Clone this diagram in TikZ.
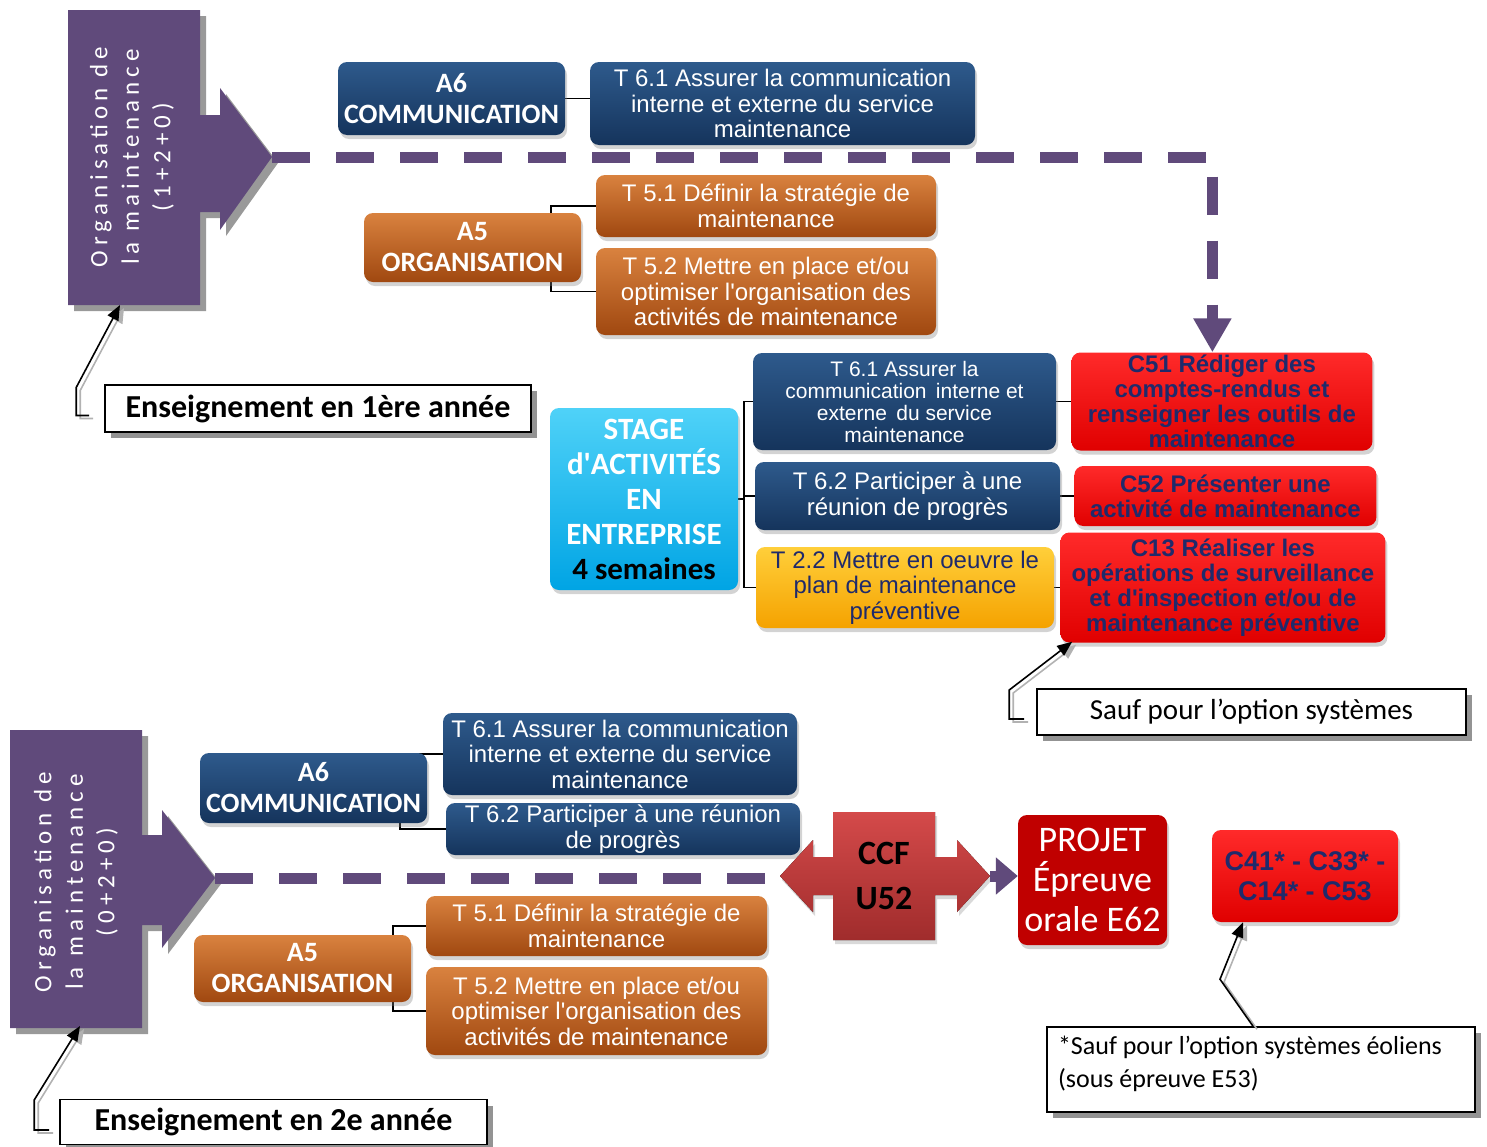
\documentclass[tikz,border=0pt]{standalone}
\usepackage{fontspec}
\setmainfont{Carlito}
\newfontfamily\arialfont{Liberation Sans}
\usepackage{tikz}
\usetikzlibrary{positioning,calc,shadows,arrows.meta,backgrounds}

\definecolor{navyA}{HTML}{2E5A8C}
\definecolor{navyB}{HTML}{15345C}
\definecolor{brownA}{HTML}{D9823F}
\definecolor{brownB}{HTML}{A04810}
\definecolor{cyanA}{HTML}{4FD2F8}
\definecolor{cyanB}{HTML}{00A4E4}
\definecolor{goldA}{HTML}{FFCF3A}
\definecolor{goldB}{HTML}{F5A200}
\definecolor{redA}{HTML}{FF2A2A}
\definecolor{redB}{HTML}{E00000}
\definecolor{cnavy}{HTML}{1F2A6B}
\definecolor{purp}{HTML}{604A7B}
\definecolor{projred}{HTML}{C00000}
\definecolor{ccfA}{HTML}{D44A4A}
\definecolor{ccfB}{HTML}{A02C2C}

\newcommand{\actfont}{\bfseries\fontsize{28}{31}\selectfont}
\newcommand{\taskfont}{\arialfont\fontsize{24}{25.5}\selectfont}
\newcommand{\smalltaskfont}{\arialfont\fontsize{21}{22}\selectfont}
\newcommand{\compfont}{\arialfont\bfseries\fontsize{24}{25}\selectfont}
\newcommand{\orgfont}{\fontsize{25}{31.5}\selectfont\addfontfeature{LetterSpace=20}}
\newcommand{\notefont}{\fontsize{29}{32}\selectfont}

\begin{document}
\begin{tikzpicture}[x=1pt, y=-1pt,
  box/.style={rounded corners=9pt, align=center, inner sep=1pt,
    drop shadow={opacity=0.35, shadow xshift=2pt, shadow yshift=-4pt}},
  navybox/.style={box, top color=navyA, bottom color=navyB, text=white},
  brownbox/.style={box, top color=brownA, bottom color=brownB, text=white},
  cyanbox/.style={box, top color=cyanA, bottom color=cyanB, text=white},
  goldbox/.style={box, top color=goldA, bottom color=goldB, text=cnavy},
  redbox/.style={box, top color=redA, bottom color=redB, text=cnavy},
  bigarrow/.style={fill=purp, drop shadow={fill=gray!80, opacity=1, shadow xshift=6pt, shadow yshift=-6pt}},
  orgtext/.style={rotate=90, align=center, text=white, font=\orgfont},
  dashline/.style={draw=purp, line width=11pt, dash pattern=on 38pt off 26pt},
  link/.style={draw=black, line width=1.6pt},
  note/.style={draw=black, line width=1.6pt, fill=white,
    drop shadow={fill=gray!85, opacity=1, shadow xshift=6pt, shadow yshift=-6pt}},
  pointer/.style={draw=black, line width=1.6pt, -{Triangle[length=15pt,width=12pt]},
    preaction={draw=gray!60, line width=1.6pt, transform canvas={shift={(4pt,-3pt)}}}}
]
\useasboundingbox (0,0) rectangle (1487,1146);

% 1st year arrow
\fill[bigarrow] (68,10) -- (200,10) -- (200,115) -- (220,115) -- (220,88) -- (272,157)
  -- (220,230) -- (220,212) -- (200,212) -- (200,305) -- (68,305) -- cycle;
\node[orgtext] (org1) at (132,157) {Organisation de\\la maintenance\\(1+2+0)};
\coordinate (tip1) at (272,157);
\coordinate (foot1) at (120,305);

% 2nd year arrow
\fill[bigarrow] (10,730) -- (142,730) -- (142,835) -- (162,835) -- (162,810) -- (215,878)
  -- (162,948) -- (162,925) -- (142,925) -- (142,1028) -- (10,1028) -- cycle;
\node[orgtext] (org2) at (76,882) {Organisation de\\la maintenance\\(0+2+0)};
\coordinate (tip2) at (215,878);
\coordinate (foot2) at (80,1026);

% 1st year activities
\node[navybox, font=\actfont, minimum width=227pt, minimum height=73pt] (a6top) at (451.5,98.5) {A6\\COMMUNICATION};
\node[navybox, font=\taskfont, minimum width=385pt, minimum height=83pt] (t61top) at (782.5,103.5)
  {T 6.1 Assurer la communication\\interne et externe du service\\maintenance};
\node[brownbox, font=\actfont, minimum width=217pt, minimum height=69pt] (a5top) at (472.5,247.5) {A5\\ORGANISATION};
\node[brownbox, font=\taskfont, minimum width=340pt, minimum height=62pt] (t51top) at (766,206)
  {T 5.1 Définir la stratégie de\\maintenance};
\node[brownbox, font=\taskfont, minimum width=340pt, minimum height=87pt] (t52top) at (766,291.5)
  {T 5.2 Mettre en place et/ou\\optimiser l\textquotesingle organisation des\\activités de maintenance};

% stage
\node[cyanbox, font=\bfseries\fontsize{31}{35}\selectfont, minimum width=188pt, minimum height=182pt] (stage) at (644,499)
  {STAGE\\d\textquotesingle ACTIVITÉS\\EN\\ENTREPRISE\\\textcolor{black}{4 semaines}};
\node[navybox, font=\smalltaskfont, minimum width=303pt, minimum height=97pt] (t61mid) at (904.5,401.5)
  {T 6.1 Assurer la\\communication\, interne et\\externe\, du service\\maintenance};
\node[navybox, font=\taskfont, minimum width=305pt, minimum height=68pt] (t62mid) at (907.5,496)
  {T 6.2 Participer à une\\réunion de progrès};
\node[goldbox, font=\taskfont, minimum width=298pt, minimum height=81pt] (t22) at (905,587.5)
  {T 2.2 Mettre en oeuvre le\\plan de maintenance\\préventive};
\node[redbox, font=\compfont, minimum width=301pt, minimum height=98pt, right=15pt of t61mid] (c51)
  {C51 Rédiger des\\comptes-rendus et\\renseigner les outils de\\maintenance};
\node[redbox, font=\compfont, minimum width=302pt, minimum height=60pt, right=14pt of t62mid] (c52)
  {C52 Présenter une\\activité de maintenance};
\node[redbox, font=\compfont, minimum width=325pt, minimum height=110pt, right=6pt of t22] (c13)
  {C13 Réaliser les\\opérations de surveillance\\et d\textquotesingle inspection et/ou de\\maintenance préventive};

% 2nd year activities
\node[navybox, font=\actfont, minimum width=227pt, minimum height=70pt] (a6bot) at (313.5,788) {A6\\COMMUNICATION};
\node[navybox, font=\taskfont, minimum width=354pt, minimum height=82pt] (t61bot) at (620,754)
  {T 6.1 Assurer la communication\\interne et externe du service\\maintenance};
\node[navybox, font=\taskfont, minimum width=354pt, minimum height=52pt] (t62bot) at (623,829)
  {T 6.2 Participer à une réunion\\de progrès};
\node[brownbox, font=\actfont, minimum width=217pt, minimum height=67pt] (a5bot) at (302.5,968.5) {A5\\ORGANISATION};
\node[brownbox, font=\taskfont, minimum width=341pt, minimum height=60pt] (t51bot) at (596.5,926)
  {T 5.1 Définir la stratégie de\\maintenance};
\node[brownbox, font=\taskfont, minimum width=341pt, minimum height=88pt] (t52bot) at (596.5,1011)
  {T 5.2 Mettre en place et/ou\\optimiser l\textquotesingle organisation des\\activités de maintenance};

% dashed paths
\draw[dashline, -{Triangle[width=36pt,length=34pt]}] (tip1) -| ([xshift=-9.5pt]c51.north);
\draw[dashline] (tip2) -- (780,878) coordinate (ccfL);

% CCF double arrow
\fill[top color=ccfA, bottom color=ccfB, drop shadow={opacity=0.3, shadow xshift=2pt, shadow yshift=-4pt}]
  (833,812) -- (935,812) -- (935,857) -- (957,857) -- (957,840) -- (990,876) -- (957,912)
  -- (957,895) -- (935,895) -- (935,940) -- (833,940) -- (833,895) -- (813,895) -- (813,912)
  -- (780,876) -- (813,840) -- (813,857) -- (833,857) -- cycle;
\node[font=\bfseries\fontsize{34}{45}\selectfont, align=center] (ccf) at (884,876) {CCF\\U52};
\coordinate (ccfR) at (990,876);

\node[box, fill=projred, text=white, font=\fontsize{36}{40}\selectfont, minimum width=149pt, minimum height=130pt] (projet) at (1092.5,880)
  {PROJET\\Épreuve\\orale E62};
\node[redbox, font=\arialfont\bfseries\fontsize{27}{30}\selectfont, minimum width=186pt, minimum height=92pt] (c41) at (1305,876)
  {C41* - C33* -\\C14* - C53};
\draw[draw=purp, line width=11pt, -{Triangle[width=36pt,length=22pt]}] (ccfR) -- (ccfR -| projet.west);

% links behind boxes
\begin{scope}[on background layer]
\draw[link] (a6top.east) -- (a6top.east -| t61top.west);
\draw[link] ([xshift=-30pt]a5top.east) |- (t51top.west);
\draw[link] ([xshift=-30pt]a5top.east) |- (t52top.west);
\draw[link] (stage.east) -- ++(6,0) coordinate (sb);
\draw[link] (sb) |- (t61mid.west);
\draw[link] (sb) |- (t62mid.west);
\draw[link] (sb) |- (t22.west);
\draw[link] (t61mid.east) -- (t61mid.east -| c51.west);
\draw[link] (t62mid.east) -- (t62mid.east -| c52.west);
\draw[link] (t22.east) -- (t22.east -| c13.west);
\draw[link] ([xshift=-27pt]a6bot.east) |- (t61bot.west);
\draw[link] ([xshift=-27pt]a6bot.east) |- (t62bot.west);
\draw[link] ([xshift=-18pt]a5bot.east) |- (t51bot.west);
\draw[link] ([xshift=-18pt]a5bot.east) |- (t52bot.west);
\end{scope}

% notes
\node[note, font=\bfseries\fontsize{32}{34}\selectfont, minimum width=426pt, minimum height=47pt] (note1) at (318,408.5)
  {Enseignement en 1ère année};
\node[note, font=\notefont, minimum width=429pt, minimum height=46pt] (note2) at (1251.5,712)
  {Sauf pour l’option systèmes};
\node[note, font=\fontsize{26}{33}\selectfont, align=flush left, text width=406pt, inner xsep=11pt, inner ysep=0pt,
  minimum height=85pt, text depth=48pt] (note3) at (1261,1069.5)
  {*Sauf pour l’option systèmes éoliens\\(sous épreuve E53)};
\node[note, font=\bfseries\fontsize{32}{34}\selectfont, minimum width=427pt, minimum height=45pt] (note4) at (273.5,1122)
  {Enseignement en 2e année};

\draw[pointer] ($(note1.west)+(-15,7)$) -- ++(-13,0) -- ++(0,-28) -- (foot1);
\draw[pointer] ($(note2.west)+(-12,7)$) -- ++(-15,0) -- ++(0,-29) -- ($(c13.south west)+(12,-1)$);
\draw[pointer] ($(note3.north)+(-8,0)$) -- ++(-33,-47) -- ($(c41.south)+(-62,0)$);
\draw[pointer] ($(note4.west)+(-10,8)$) -- ++(-15,0) -- ++(0,-30) -- (foot2);

\end{tikzpicture}
\end{document}
